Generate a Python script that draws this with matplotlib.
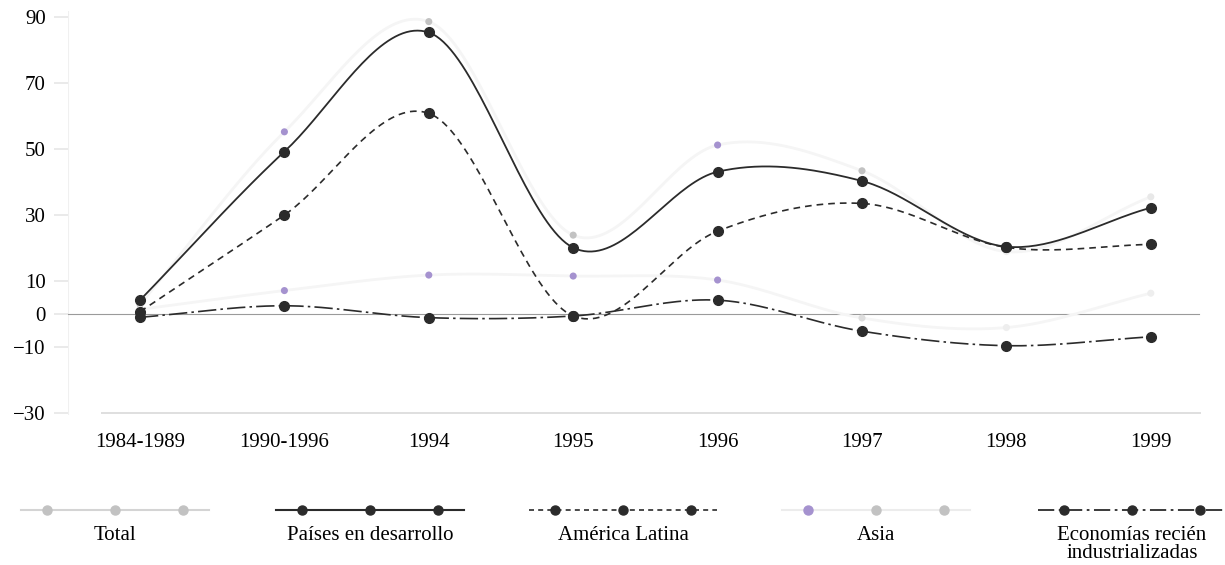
import matplotlib
matplotlib.use("Agg")
import matplotlib.pyplot as plt
import numpy as np

plt.rcParams['font.family'] = ['Liberation Serif', 'DejaVu Serif']

# === Datos ===
periodos = ['1984-1989', '1990-1996', '1994', '1995', '1996', '1997', '1998', '1999']
total = [3.0, 55.3, 88.7, 24.0, 51.3, 43.5, 19.0, 35.6]
paises_desarrollo = [4.3, 49.3, 85.4, 20.2, 43.2, 40.4, 20.5, 32.3]
america_latina = [0.8, 30.1, 60.9, -0.5, 25.2, 33.6, 20.3, 21.2]
asia = [1.5, 7.2, 11.9, 11.6, 10.4, -1.1, -4.0, 6.4]
economias_ri = [-0.9, 2.6, -1.0, -0.5, 4.3, -5.1, -9.5, -6.8]

y_ticks = [90, 70, 50, 30, 10, 0, -10, -30]

NEGRO = '#2b2b2b'
GRIS = '#c2c2c2'
LILA = '#a592cf'


def suave(x, y, n=40):
    # curva Catmull-Rom, solo para el trazo
    x = np.asarray(x, float)
    y = np.asarray(y, float)
    px = np.concatenate([[2 * x[0] - x[1]], x, [2 * x[-1] - x[-2]]])
    py = np.concatenate([[2 * y[0] - y[1]], y, [2 * y[-1] - y[-2]]])
    xs, ys = [], []
    t = np.linspace(0, 1, n)
    for i in range(1, len(px) - 2):
        for arr, out in ((px, xs), (py, ys)):
            p0, p1, p2, p3 = arr[i - 1], arr[i], arr[i + 1], arr[i + 2]
            out.append(0.5 * (2 * p1 + (-p0 + p2) * t
                              + (2 * p0 - 5 * p1 + 4 * p2 - p3) * t ** 2
                              + (-p0 + 3 * p1 - 3 * p2 + p3) * t ** 3))
    return np.concatenate(xs), np.concatenate(ys)


fig = plt.figure(figsize=(12.25, 5.65), dpi=100)
ax = fig.add_axes([68 / 1225, 1 - 415 / 565, 1142 / 1225, (415 - 10.7) / 565])
x = np.arange(len(periodos))

# líneas de referencia
ax.axhline(0, color='#9a9a9a', lw=0.8, xmin=0, xmax=0.99, zorder=1)
ax.hlines(-30, -0.27, 7.35, color='#d9d9d9', lw=1.2, zorder=1)
ax.axvline(-0.4986, color='#f0f0f0', lw=1.5, zorder=0)

# Total y Asia (muy tenues en el original)
xs, ys = suave(x, total)
ax.plot(xs, ys, color='#f5f5f5', lw=2, zorder=2)
ax.scatter(x, total, s=26, color=[GRIS, LILA, GRIS, GRIS, LILA, GRIS, '#eeeeee', '#e8e8e8'],
           zorder=4, edgecolors='none')
xs, ys = suave(x, asia)
ax.plot(xs, ys, color='#f5f5f5', lw=2, zorder=2)
ax.scatter(x, asia, s=26, color=['#e8e8e8', LILA, LILA, LILA, LILA, '#dddddd', '#eeeeee', '#eeeeee'],
           zorder=4, edgecolors='none')

# Países en desarrollo
xs, ys = suave(x, paises_desarrollo)
ax.plot(xs, ys, color=NEGRO, lw=1.3, zorder=3)
ax.plot(x, paises_desarrollo, 'o', color=NEGRO, ms=7, zorder=5)

# América Latina
xs, ys = suave(x, america_latina)
ax.plot(xs, ys, color=NEGRO, lw=1.2, dashes=(4, 3), zorder=3)
ax.plot(x, america_latina, 'o', color=NEGRO, ms=7, zorder=5)

# Economías recién industrializadas
xs, ys = suave(x, economias_ri)
ax.plot(xs, ys, color=NEGRO, lw=1.2, dashes=(11, 2.5, 1.5, 2.5), zorder=3)
ax.plot(x, economias_ri, 'o', color=NEGRO, ms=7, zorder=5)

ax.set_xlim(-0.4986, 7.41)
ax.set_ylim(-30.5, 92)
ax.set_yticks(y_ticks)
ax.set_yticklabels([str(v).replace('-', '\u2212') for v in y_ticks])
ax.set_xticks(x)
ax.set_xticklabels(periodos)
ax.tick_params(axis='y', length=10, width=1.2, color='#e6e6e6', pad=6, labelsize=15)
ax.tick_params(axis='x', length=0, pad=13, labelsize=15)
for s in ax.spines.values():
    s.set_visible(False)

# === Leyenda manual ===
lax = fig.add_axes([0, 0, 1, 1], zorder=-1)
lax.set_xlim(0, 1225)
lax.set_ylim(565, 0)
lax.axis('off')

ly = 510
leyenda = [
    ('Total', 115, dict(color='#d4d4d4', lw=1.5), [GRIS, GRIS, GRIS]),
    ('Países en desarrollo', 370, dict(color=NEGRO, lw=1.5), [NEGRO] * 3),
    ('América Latina', 623, dict(color=NEGRO, lw=1.2, dashes=(3, 2.5)), [NEGRO] * 3),
    ('Asia', 876, dict(color='#ececec', lw=1.5), [LILA, GRIS, GRIS]),
    ('Economías recién\nindustrializadas', 1132, dict(color=NEGRO, lw=1.3, dashes=(9, 2.5, 1.5, 2.5)), [NEGRO] * 3),
]
for nombre, cx, estilo, cols in leyenda:
    lax.plot([cx - 94, cx + 94], [ly, ly], **estilo)
    for k, c in zip((-68, 0, 68), cols):
        lax.plot(cx + k, ly, 'o', color=c, ms=6.5)
    lax.text(cx, 526, nombre, ha='center', va='top', fontsize=15, linespacing=0.95)

fig.savefig('out.png', dpi=100)
